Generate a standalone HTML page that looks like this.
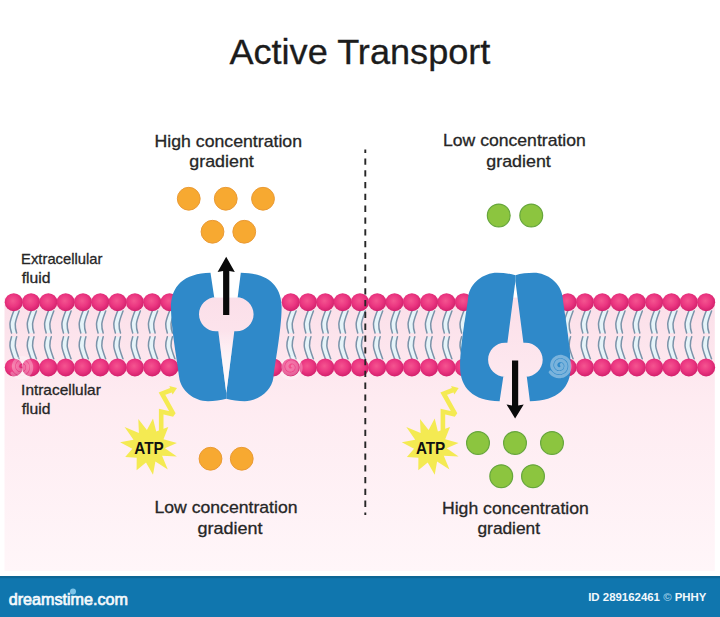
<!DOCTYPE html>
<html><head><meta charset="utf-8"><title>Active Transport</title>
<style>
html,body{margin:0;padding:0;background:#fff;}
body{width:720px;height:617px;overflow:hidden;}
svg{display:block;}
text{font-family:"Liberation Sans",sans-serif;}
</style></head><body>
<svg width="720" height="617" viewBox="0 0 720 617">
<defs>
<linearGradient id="pinkbg" x1="0" y1="0" x2="0" y2="1">
<stop offset="0" stop-color="#fbdfe9"/><stop offset="0.37" stop-color="#feebf1"/><stop offset="1" stop-color="#fff6f9"/>
</linearGradient>
<linearGradient id="wedge" gradientUnits="userSpaceOnUse" x1="0" y1="331" x2="0" y2="393"><stop offset="0" stop-color="#fff" stop-opacity="0"/><stop offset="0.45" stop-color="#fff" stop-opacity="0.6"/><stop offset="1" stop-color="#fff" stop-opacity="0.8"/></linearGradient>
<radialGradient id="head" cx="0.45" cy="0.42" r="0.6">
<stop offset="0" stop-color="#f45590"/><stop offset="0.55" stop-color="#eb3681"/><stop offset="1" stop-color="#d11f6b"/>
</radialGradient>
<g id="tailsT" fill="none" stroke-linecap="round">
<path d="M0,0 C-1.5,4 -3.6,9 -3.8,13 C-3.95,16.5 -3.2,19 -2.2,22 L2.9,22 C1.9,19 1.35,16.5 1.5,13 C1.8,9 3.9,4 5.4,0 Z" fill="#e6f4f9" stroke="none"/>
<path d="M0,0 C-1.5,4 -3.6,9 -3.8,13 C-3.95,16.5 -3.2,19 -2.2,22" stroke="#7b93a9" stroke-width="1.5"/>
<path d="M5.4,0 C3.9,4 1.8,9 1.5,13 C1.35,16.5 1.9,19 2.9,22" stroke="#7b93a9" stroke-width="1.5"/>
</g>
<g id="protein" fill="#2f89c9">
<path d="M210.5,272.7 L214.2,297.2 L216,297.3 C206.6,297.3 199,304.9 199,314.3 C199,323.7 206.6,331.3 216,331.3 L218.3,331.3 L226.3,393 L226.3,398.8 C221,400.4 214,401.2 208,401.2 C194,401.2 180.8,390.5 179.2,377.5 C177.5,362 171.2,330 171,308 C170.8,286 184,273.2 210.5,272.7 Z"/>
<path d="M240.8,272.7 L237.7,297.2 L236.4,297.3 C245.8,297.3 253.6,304.9 253.6,314.3 C253.6,323.7 245.8,331.3 236.4,331.3 L234.3,331.3 L226.3,393 L226.3,398.8 C231.6,400.4 238.6,401.2 244.6,401.2 C258.6,401.2 271.8,390.5 273.4,377.5 C275.1,362 281.4,330 281.6,308 C281.8,286 268.6,273.2 240.8,272.7 Z"/>
</g>
<path id="swirl" d="M1.5,-1.0 L1.7,-0.8 L2.0,-0.5 L2.1,-0.2 L2.2,0.2 L2.3,0.6 L2.2,1.1 L2.1,1.5 L1.9,1.9 L1.6,2.3 L1.2,2.6 L0.7,2.9 L0.2,3.1 L-0.3,3.2 L-0.9,3.2 L-1.5,3.1 L-2.1,2.9 L-2.6,2.6 L-3.1,2.1 L-3.5,1.6 L-3.9,1.0 L-4.1,0.3 L-4.2,-0.4 L-4.1,-1.2 L-4.0,-1.9 L-3.7,-2.6 L-3.2,-3.3 L-2.7,-3.9 L-2.0,-4.4 L-1.2,-4.8 L-0.4,-5.1 L0.5,-5.2 L1.4,-5.1 L2.3,-4.9 L3.2,-4.5 L4.0,-3.9 L4.7,-3.2 L5.3,-2.4 L5.8,-1.5 L6.0,-0.5 L6.1,0.6 L6.0,1.7 L5.7,2.8 L5.3,3.8 L4.6,4.7 L3.8,5.5 L2.8,6.2 L1.7,6.7 L0.5,7.0 L-0.7,7.1 L-2.0,7.0 L-3.2,6.6 L-4.3,6.1 L-5.4,5.3 L-6.3,4.3 L-7.1,3.2 L-7.7,2.0 L-8.0,0.6 L-8.1,-0.8 L-7.9,-2.2 L-7.5,-3.6 L-6.9,-4.9 L-6.0,-6.1 L-4.9,-7.1 L-3.6,-8.0 L-2.2,-8.6 L-0.7,-9.0 L0.9,-9.1 L2.5,-8.9 L4.0,-8.4 L5.5,-7.7 L6.8,-6.7 L8.0,-5.4 L8.9,-4.0 L9.5,-2.4 L9.9,-0.8 L10.0,1.0 L9.8,2.7 L9.3,4.5 L8.5,6.1 L7.4,7.5 L6.0,8.8 L4.4,9.8 L2.7,10.5 L0.8,10.9 L-1.1,11.0 L-3.0,10.8 L-4.9,10.2 L-6.6,9.3 L-8.2,8.0 L-9.6,6.5" fill="none" stroke="#ffffff" stroke-width="3.3" stroke-linecap="round" stroke-linejoin="round"/>
<g id="star">

<polygon fill="#f4ea52" points="153.0,418.5 146.9,429.9 138.3,419.1 138.9,432.9 124.6,427.0 133.5,439.7 120.1,442.3 132.3,448.7 125.2,457.1 136.7,457.8 136.6,470.2 146.0,462.6 153.0,474.7 155.4,461.4 167.8,469.6 162.1,455.8 176.9,456.5 165.0,448.2 176.9,442.9 163.5,439.2 168.3,427.0 156.2,431.6"/>
<path d="M161.2,433 L161.2,411.6 L173.6,414.4 L162,393.6 L171.5,390" fill="none" stroke="#f4ea52" stroke-width="4.6" stroke-linejoin="miter" stroke-miterlimit="2.2"/>
<path d="M169.4,385.9 L177,388 L172.6,394.6 Z" fill="#f4ea52"/>
</g>
</defs>
<rect width="720" height="617" fill="#ffffff"/>
<rect x="4.5" y="297.6" width="710.3" height="273.4" fill="url(#pinkbg)"/>

<g>
<use href="#tailsT" x="13.75" y="311"/>
<use href="#tailsT" transform="translate(13.75,358.8) scale(1,-1)"/>
<use href="#tailsT" x="31.06" y="311"/>
<use href="#tailsT" transform="translate(31.06,358.8) scale(1,-1)"/>
<use href="#tailsT" x="48.37" y="311"/>
<use href="#tailsT" transform="translate(48.37,358.8) scale(1,-1)"/>
<use href="#tailsT" x="65.68" y="311"/>
<use href="#tailsT" transform="translate(65.68,358.8) scale(1,-1)"/>
<use href="#tailsT" x="82.99" y="311"/>
<use href="#tailsT" transform="translate(82.99,358.8) scale(1,-1)"/>
<use href="#tailsT" x="100.30" y="311"/>
<use href="#tailsT" transform="translate(100.30,358.8) scale(1,-1)"/>
<use href="#tailsT" x="117.61" y="311"/>
<use href="#tailsT" transform="translate(117.61,358.8) scale(1,-1)"/>
<use href="#tailsT" x="134.92" y="311"/>
<use href="#tailsT" transform="translate(134.92,358.8) scale(1,-1)"/>
<use href="#tailsT" x="152.23" y="311"/>
<use href="#tailsT" transform="translate(152.23,358.8) scale(1,-1)"/>
<use href="#tailsT" x="169.54" y="311"/>
<use href="#tailsT" transform="translate(169.54,358.8) scale(1,-1)"/>
<use href="#tailsT" x="290.71" y="311"/>
<use href="#tailsT" transform="translate(290.71,358.8) scale(1,-1)"/>
<use href="#tailsT" x="308.02" y="311"/>
<use href="#tailsT" transform="translate(308.02,358.8) scale(1,-1)"/>
<use href="#tailsT" x="325.33" y="311"/>
<use href="#tailsT" transform="translate(325.33,358.8) scale(1,-1)"/>
<use href="#tailsT" x="342.64" y="311"/>
<use href="#tailsT" transform="translate(342.64,358.8) scale(1,-1)"/>
<use href="#tailsT" x="359.95" y="311"/>
<use href="#tailsT" transform="translate(359.95,358.8) scale(1,-1)"/>
<use href="#tailsT" x="377.26" y="311"/>
<use href="#tailsT" transform="translate(377.26,358.8) scale(1,-1)"/>
<use href="#tailsT" x="394.57" y="311"/>
<use href="#tailsT" transform="translate(394.57,358.8) scale(1,-1)"/>
<use href="#tailsT" x="411.88" y="311"/>
<use href="#tailsT" transform="translate(411.88,358.8) scale(1,-1)"/>
<use href="#tailsT" x="429.19" y="311"/>
<use href="#tailsT" transform="translate(429.19,358.8) scale(1,-1)"/>
<use href="#tailsT" x="446.50" y="311"/>
<use href="#tailsT" transform="translate(446.50,358.8) scale(1,-1)"/>
<use href="#tailsT" x="463.81" y="311"/>
<use href="#tailsT" transform="translate(463.81,358.8) scale(1,-1)"/>
<use href="#tailsT" x="567.67" y="311"/>
<use href="#tailsT" transform="translate(567.67,358.8) scale(1,-1)"/>
<use href="#tailsT" x="584.98" y="311"/>
<use href="#tailsT" transform="translate(584.98,358.8) scale(1,-1)"/>
<use href="#tailsT" x="602.29" y="311"/>
<use href="#tailsT" transform="translate(602.29,358.8) scale(1,-1)"/>
<use href="#tailsT" x="619.60" y="311"/>
<use href="#tailsT" transform="translate(619.60,358.8) scale(1,-1)"/>
<use href="#tailsT" x="636.91" y="311"/>
<use href="#tailsT" transform="translate(636.91,358.8) scale(1,-1)"/>
<use href="#tailsT" x="654.22" y="311"/>
<use href="#tailsT" transform="translate(654.22,358.8) scale(1,-1)"/>
<use href="#tailsT" x="671.53" y="311"/>
<use href="#tailsT" transform="translate(671.53,358.8) scale(1,-1)"/>
<use href="#tailsT" x="688.84" y="311"/>
<use href="#tailsT" transform="translate(688.84,358.8) scale(1,-1)"/>
<use href="#tailsT" x="706.15" y="311"/>
<use href="#tailsT" transform="translate(706.15,358.8) scale(1,-1)"/>
<circle cx="13.75" cy="302.2" r="9" fill="url(#head)"/>
<circle cx="13.75" cy="367.4" r="9" fill="url(#head)"/>
<circle cx="31.06" cy="302.2" r="9" fill="url(#head)"/>
<circle cx="31.06" cy="367.4" r="9" fill="url(#head)"/>
<circle cx="48.37" cy="302.2" r="9" fill="url(#head)"/>
<circle cx="48.37" cy="367.4" r="9" fill="url(#head)"/>
<circle cx="65.68" cy="302.2" r="9" fill="url(#head)"/>
<circle cx="65.68" cy="367.4" r="9" fill="url(#head)"/>
<circle cx="82.99" cy="302.2" r="9" fill="url(#head)"/>
<circle cx="82.99" cy="367.4" r="9" fill="url(#head)"/>
<circle cx="100.30" cy="302.2" r="9" fill="url(#head)"/>
<circle cx="100.30" cy="367.4" r="9" fill="url(#head)"/>
<circle cx="117.61" cy="302.2" r="9" fill="url(#head)"/>
<circle cx="117.61" cy="367.4" r="9" fill="url(#head)"/>
<circle cx="134.92" cy="302.2" r="9" fill="url(#head)"/>
<circle cx="134.92" cy="367.4" r="9" fill="url(#head)"/>
<circle cx="152.23" cy="302.2" r="9" fill="url(#head)"/>
<circle cx="152.23" cy="367.4" r="9" fill="url(#head)"/>
<circle cx="169.54" cy="302.2" r="9" fill="url(#head)"/>
<circle cx="169.54" cy="367.4" r="9" fill="url(#head)"/>
<circle cx="186.85" cy="367.4" r="9" fill="url(#head)"/>
<circle cx="273.40" cy="367.4" r="9" fill="url(#head)"/>
<circle cx="290.71" cy="302.2" r="9" fill="url(#head)"/>
<circle cx="290.71" cy="367.4" r="9" fill="url(#head)"/>
<circle cx="308.02" cy="302.2" r="9" fill="url(#head)"/>
<circle cx="308.02" cy="367.4" r="9" fill="url(#head)"/>
<circle cx="325.33" cy="302.2" r="9" fill="url(#head)"/>
<circle cx="325.33" cy="367.4" r="9" fill="url(#head)"/>
<circle cx="342.64" cy="302.2" r="9" fill="url(#head)"/>
<circle cx="342.64" cy="367.4" r="9" fill="url(#head)"/>
<circle cx="359.95" cy="302.2" r="9" fill="url(#head)"/>
<circle cx="359.95" cy="367.4" r="9" fill="url(#head)"/>
<circle cx="377.26" cy="302.2" r="9" fill="url(#head)"/>
<circle cx="377.26" cy="367.4" r="9" fill="url(#head)"/>
<circle cx="394.57" cy="302.2" r="9" fill="url(#head)"/>
<circle cx="394.57" cy="367.4" r="9" fill="url(#head)"/>
<circle cx="411.88" cy="302.2" r="9" fill="url(#head)"/>
<circle cx="411.88" cy="367.4" r="9" fill="url(#head)"/>
<circle cx="429.19" cy="302.2" r="9" fill="url(#head)"/>
<circle cx="429.19" cy="367.4" r="9" fill="url(#head)"/>
<circle cx="446.50" cy="302.2" r="9" fill="url(#head)"/>
<circle cx="446.50" cy="367.4" r="9" fill="url(#head)"/>
<circle cx="463.81" cy="302.2" r="9" fill="url(#head)"/>
<circle cx="463.81" cy="367.4" r="9" fill="url(#head)"/>
<circle cx="481.12" cy="302.2" r="9" fill="url(#head)"/>
<circle cx="550.36" cy="302.2" r="9" fill="url(#head)"/>
<circle cx="567.67" cy="302.2" r="9" fill="url(#head)"/>
<circle cx="567.67" cy="367.4" r="9" fill="url(#head)"/>
<circle cx="584.98" cy="302.2" r="9" fill="url(#head)"/>
<circle cx="584.98" cy="367.4" r="9" fill="url(#head)"/>
<circle cx="602.29" cy="302.2" r="9" fill="url(#head)"/>
<circle cx="602.29" cy="367.4" r="9" fill="url(#head)"/>
<circle cx="619.60" cy="302.2" r="9" fill="url(#head)"/>
<circle cx="619.60" cy="367.4" r="9" fill="url(#head)"/>
<circle cx="636.91" cy="302.2" r="9" fill="url(#head)"/>
<circle cx="636.91" cy="367.4" r="9" fill="url(#head)"/>
<circle cx="654.22" cy="302.2" r="9" fill="url(#head)"/>
<circle cx="654.22" cy="367.4" r="9" fill="url(#head)"/>
<circle cx="671.53" cy="302.2" r="9" fill="url(#head)"/>
<circle cx="671.53" cy="367.4" r="9" fill="url(#head)"/>
<circle cx="688.84" cy="302.2" r="9" fill="url(#head)"/>
<circle cx="688.84" cy="367.4" r="9" fill="url(#head)"/>
<circle cx="706.15" cy="302.2" r="9" fill="url(#head)"/>
<circle cx="706.15" cy="367.4" r="9" fill="url(#head)"/>
</g>

<use href="#protein"/>
<use href="#protein" transform="translate(289.1,674.0) scale(1,-1)"/>
<path d="M218.3,331.3 L234.3,331.3 L226.3,393 Z" fill="url(#wedge)"/>
<use href="#swirl" x="21.6" y="366.8" opacity="0.3"/>
<use href="#swirl" x="291" y="367" opacity="0.28"/>
<use href="#swirl" x="559.9" y="365.6" opacity="0.36"/>
<line x1="365.3" y1="149.5" x2="365.3" y2="515" stroke="#262626" stroke-width="1.9" stroke-dasharray="6.3 5.5" stroke-dashoffset="2.9"/>
<!-- arrows -->
<path d="M223.1,315 L223.1,271 L217.6,272 L226.2,256.8 L234.8,272 L229.3,271 L229.3,315 Z" fill="#0a0a0a"/>
<path d="M512,360.4 L512,405.4 L506.5,404.4 L515.1,418.4 L523.7,404.4 L518.2,405.4 L518.2,360.4 Z" fill="#0a0a0a"/>
<use href="#star"/>
<use href="#star" x="281.7" y="0"/>
<!-- particles -->
<g fill="#f7a931" stroke="#ea9a35" stroke-width="1">
<circle cx="188.75" cy="198.75" r="11.4"/><circle cx="225.75" cy="198.75" r="11.4"/><circle cx="263" cy="198.75" r="11.4"/>
<circle cx="212.5" cy="231.75" r="11.4"/><circle cx="244.25" cy="231.75" r="11.4"/>
<circle cx="210.5" cy="458.75" r="11.4"/><circle cx="241.75" cy="458.75" r="11.4"/>
</g>
<g fill="#8cc53f" stroke="#66a63c" stroke-width="1.2">
<circle cx="498.75" cy="215.5" r="11.4"/><circle cx="531.25" cy="215.5" r="11.4"/>
<circle cx="478" cy="443" r="11.4"/><circle cx="515" cy="443" r="11.4"/><circle cx="552" cy="443" r="11.4"/>
<circle cx="501.25" cy="476.25" r="11.4"/><circle cx="533" cy="476.25" r="11.4"/>
</g>
<!-- text -->
<g fill="#1c1c1c" stroke="#1c1c1c" stroke-width="0.3">
<text x="229.4" y="63.5" font-size="35" textLength="261" lengthAdjust="spacingAndGlyphs">Active Transport</text>
<g font-size="17" fill="#262626" stroke="#262626">
<text x="154.5" y="146.7" textLength="147.5" lengthAdjust="spacingAndGlyphs">High concentration</text>
<text x="189.3" y="166.7" textLength="64.5" lengthAdjust="spacingAndGlyphs">gradient</text>
<text x="443" y="145.8" textLength="142.8" lengthAdjust="spacingAndGlyphs">Low concentration</text>
<text x="486.3" y="166.7" textLength="64.5" lengthAdjust="spacingAndGlyphs">gradient</text>
<text x="154.5" y="513" textLength="143" lengthAdjust="spacingAndGlyphs">Low concentration</text>
<text x="197.5" y="533.7" textLength="65" lengthAdjust="spacingAndGlyphs">gradient</text>
<text x="442" y="514.2" textLength="146.8" lengthAdjust="spacingAndGlyphs">High concentration</text>
<text x="477.5" y="534.2" textLength="62.5" lengthAdjust="spacingAndGlyphs">gradient</text>
</g>
<g font-size="14.8" fill="#262626" stroke="#262626">
<text x="21.1" y="263.7" textLength="81.4" lengthAdjust="spacingAndGlyphs">Extracellular</text>
<text x="21.7" y="283" textLength="28.8" lengthAdjust="spacingAndGlyphs">fluid</text>
<text x="21.1" y="394.7" textLength="79.7" lengthAdjust="spacingAndGlyphs">Intracellular</text>
<text x="21.7" y="413.7" textLength="28.8" lengthAdjust="spacingAndGlyphs">fluid</text>
</g>
<g font-size="17" font-weight="bold" fill="#111" stroke="none">
<text x="134.3" y="453.8" textLength="29.4" lengthAdjust="spacingAndGlyphs">ATP</text>
<text x="415.9" y="453.7" textLength="29.4" lengthAdjust="spacingAndGlyphs">ATP</text>
</g>
</g>
<!-- footer -->
<rect x="0" y="576" width="720" height="41" fill="#1076ae"/>
<rect x="0" y="576" width="720" height="2.2" fill="#0d6695"/>
<circle cx="73" cy="591.6" r="3" fill="#7cc4ea"/>
<text x="8.7" y="605.2" font-size="16" font-weight="normal" fill="#f4f9fc" stroke="#f4f9fc" stroke-width="0.7" textLength="119.3" lengthAdjust="spacingAndGlyphs">dreamstime.com</text>
<text x="588.2" y="600.8" font-size="10.6" font-weight="bold" fill="#f2f8fc" textLength="118.3" lengthAdjust="spacingAndGlyphs">ID 289162461 <tspan fill="#9ccbe6">©</tspan> PHHY</text>
</svg>
</body></html>
